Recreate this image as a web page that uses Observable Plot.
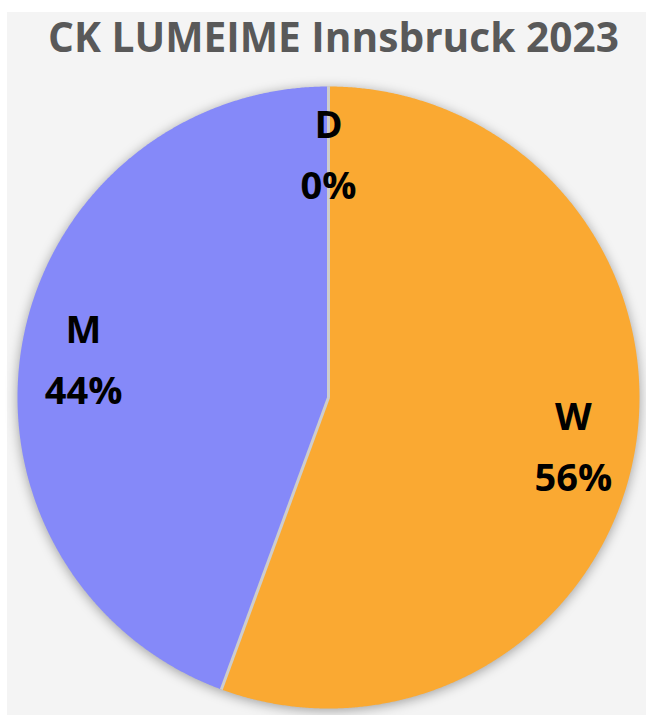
<!DOCTYPE html>
<html>
<head>
<meta charset="utf-8">
<script src="https://cdn.jsdelivr.net/npm/d3@7"></script>
<script src="https://cdn.jsdelivr.net/npm/@observablehq/plot@0.6"></script>
<style>
  html, body { margin: 0; padding: 0; background: #ffffff; }
  #panel { position: absolute; left: 7px; top: 12px; width: 639px; height: 703px; background: #f4f4f4; }
  #title { position: absolute; left: 0; width: 639px; text-align: center; font-family: "Open Sans", sans-serif;
           font-weight: 700; color: #595959; line-height: 1; white-space: nowrap; }
  #chart { position: absolute; left: 0; top: 60px; }
  #chart g[aria-label="line"] { filter: drop-shadow(0px 2px 6px rgba(0,0,0,0.35)); }
</style>
</head>
<body>
<div id="panel">
  <div id="title"></div>
  <div id="chart"></div>
</div>
<script>
const titleText = "CK LUMEIME Innsbruck 2023";
const categories = ["W", "M", "D"];
const values = [55.6, 44.4, 0];
const colors = ["#FAA932", "#8589F9"];
const sliceColors = ["#FAA932", "#8589F9", "#A5A5A5"];

// Title, fitted to the reference width
const titleEl = document.getElementById("title");
titleEl.textContent = titleText;
const ctx = document.createElement("canvas").getContext("2d");
ctx.font = "700 100px 'Open Sans'";
const w100 = ctx.measureText(titleText).width;
const fs = 100 * 571 / w100;
titleEl.style.fontSize = fs + "px";
titleEl.style.top = (26.5 - 0.531 * fs) + "px";
titleEl.style.left = "7px";

// Pie geometry from d3.pie (clockwise from 12 o'clock)
const table = categories.map((c, i) => ({cat: c, value: values[i]}));
const arcs = d3.pie().sort(null).value(d => d.value)(table);

const slicePts = [];
for (const a of arcs) {
  if (a.endAngle - a.startAngle <= 0) continue;
  slicePts.push({cat: a.data.cat, x: 0, y: 0});
  const n = Math.max(2, Math.ceil((a.endAngle - a.startAngle) / 0.005));
  for (let k = 0; k <= n; k++) {
    const t = a.startAngle + (a.endAngle - a.startAngle) * k / n;
    slicePts.push({cat: a.data.cat, x: Math.sin(t), y: Math.cos(t)});
  }
}
const bounds = arcs.map(a => ({x: Math.sin(a.startAngle), y: Math.cos(a.startAngle)}))
  .concat([{x: Math.sin(arcs[arcs.length - 1].endAngle), y: Math.cos(arcs[arcs.length - 1].endAngle)}]);
const labels = arcs.map(a => {
  const m = (a.startAngle + a.endAngle) / 2;
  return {x: 0.8 * Math.sin(m), y: 0.8 * Math.cos(m), text: `${a.data.cat}\n${Math.round(a.data.value)}%`};
});

const chart = Plot.plot({
  width: 639,
  height: 643,
  marginLeft: 10, marginRight: 7, marginTop: 14, marginBottom: 7,
  x: {domain: [-1, 1], axis: null},
  y: {domain: [-1, 1], axis: null},
  color: {domain: categories, range: sliceColors},
  style: {background: "transparent", overflow: "visible"},
  marks: [
    Plot.line(slicePts, {x: "x", y: "y", z: "cat", fill: "cat", stroke: "none", curve: "linear-closed"}),
    Plot.link(bounds, {x1: d => 0, y1: d => 0, x2: "x", y2: "y", stroke: "#cdcdcd", strokeWidth: 3}),
    Plot.text(labels, {x: "x", y: "y", text: "text", fontSize: 38, fontWeight: 700, fill: "#000000",
      fontFamily: "Open Sans", lineHeight: 1.6, lineAnchor: "middle"})
  ]
});
document.getElementById("chart").appendChild(chart);
</script>
</body>
</html>
